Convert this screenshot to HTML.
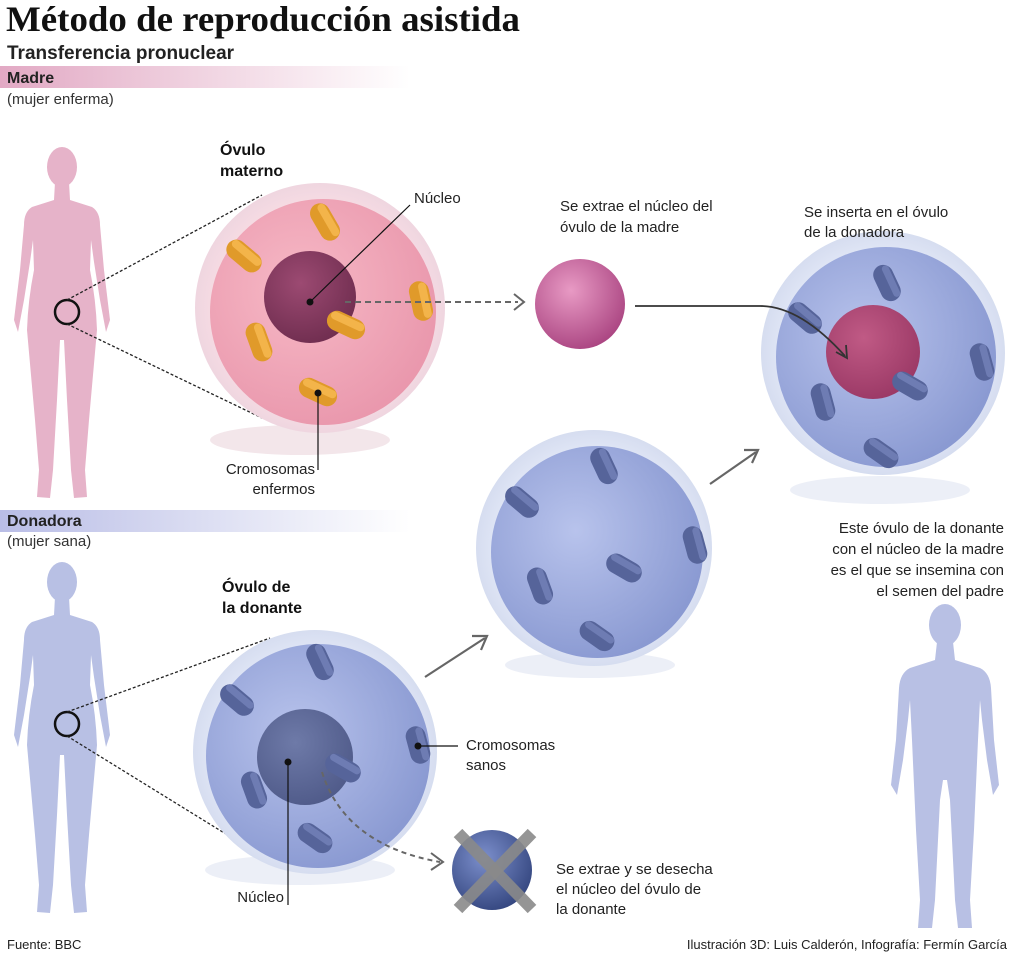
<!DOCTYPE html>
<html><head><meta charset="utf-8"><style>
body{margin:0;background:#fff;}
svg{display:block;font-family:"Liberation Sans",sans-serif;}
</style></head><body>
<svg width="1024" height="954" viewBox="0 0 1024 954" xmlns="http://www.w3.org/2000/svg">
<defs>
<linearGradient id="pbar" x1="0" x2="1"><stop offset="0" stop-color="#e2a9c4"/><stop offset="1" stop-color="#fff"/></linearGradient>
<linearGradient id="bbar" x1="0" x2="1"><stop offset="0" stop-color="#b9bde6"/><stop offset="1" stop-color="#fff"/></linearGradient>
<radialGradient id="pegg" cx="0.4" cy="0.4" r="0.7"><stop offset="0" stop-color="#f7b9c6"/><stop offset="1" stop-color="#e894aa"/></radialGradient>
<radialGradient id="phalo" cx="0.5" cy="0.5" r="0.5"><stop offset="0.85" stop-color="#f6dbe3"/><stop offset="1" stop-color="#efd6e0"/></radialGradient>
<radialGradient id="pnuc" cx="0.4" cy="0.35" r="0.7"><stop offset="0" stop-color="#9c4a72"/><stop offset="1" stop-color="#6f2d4f"/></radialGradient>
<radialGradient id="psph" cx="0.4" cy="0.35" r="0.7"><stop offset="0" stop-color="#e89ac4"/><stop offset="1" stop-color="#a94380"/></radialGradient>
<radialGradient id="begg" cx="0.4" cy="0.4" r="0.7"><stop offset="0" stop-color="#b8c3ec"/><stop offset="1" stop-color="#8595cf"/></radialGradient>
<radialGradient id="bhalo" cx="0.5" cy="0.5" r="0.5"><stop offset="0.85" stop-color="#dfe5f5"/><stop offset="1" stop-color="#d6ddf0"/></radialGradient>
<radialGradient id="bnuc" cx="0.4" cy="0.35" r="0.7"><stop offset="0" stop-color="#6e7aa8"/><stop offset="1" stop-color="#4f5a89"/></radialGradient>
<radialGradient id="rnuc" cx="0.4" cy="0.35" r="0.7"><stop offset="0" stop-color="#c05a85"/><stop offset="1" stop-color="#9a3865"/></radialGradient>
<radialGradient id="xsph" cx="0.4" cy="0.35" r="0.7"><stop offset="0" stop-color="#7c8fcc"/><stop offset="1" stop-color="#33457e"/></radialGradient>
<g id="oc"><rect x="-20" y="-10" width="40" height="20" rx="10" fill="#e09a2a"/><rect x="-18" y="-8" width="36" height="8" rx="4" fill="#f3b44a"/></g>
<g id="bc"><rect x="-19" y="-10" width="38" height="20" rx="10" fill="#56649a"/><rect x="-17" y="-8" width="34" height="7" rx="3.5" fill="#6e7cb3"/></g>
<g id="woman">
<ellipse cx="62" cy="167" rx="15" ry="20"/>
<path d="M55,182 L69,182 L70,200 L92,207 Q100,212 100,225 L104,270 L110,320 L106,332 L100,300 L94,262 L91,240 L90,270 Q96,300 97,330 L89,420 L85,470 L87,497 L74,498 L71,470 L67,400 L64,340 L60,340 L57,400 L53,470 L50,498 L37,497 L39,470 L35,420 L27,330 Q28,300 34,270 L33,240 L30,262 L24,300 L18,332 L14,320 L20,270 L24,225 Q24,212 32,207 L54,200 Z"/>
</g>
</defs>

<!-- header -->
<text x="6" y="31" font-family="Liberation Serif,serif" font-weight="bold" font-size="36" fill="#111" textLength="514" lengthAdjust="spacingAndGlyphs">Método de reproducción asistida</text>
<text x="7" y="59" font-weight="bold" font-size="19" fill="#222">Transferencia pronuclear</text>
<rect x="0" y="66" width="410" height="22" fill="url(#pbar)"/>
<text x="7" y="83" font-weight="bold" font-size="16" fill="#222">Madre</text>
<text x="7" y="104" font-size="15" fill="#333">(mujer enferma)</text>
<rect x="0" y="510" width="410" height="22" fill="url(#bbar)"/>
<text x="7" y="526" font-weight="bold" font-size="16" fill="#222">Donadora</text>
<text x="7" y="546" font-size="15" fill="#333">(mujer sana)</text>

<!-- women -->
<use href="#woman" fill="#e6b3c9"/>
<use href="#woman" fill="#b8c0e4" transform="translate(0,415)"/>
<!-- man -->
<g fill="#b8c0e4">
<ellipse cx="945" cy="625" rx="16" ry="21"/>
<path d="M937,642 L953,642 L955,660 L980,668 Q990,673 991,688 L994,740 L999,785 L993,795 L987,760 L982,720 L980,700 L978,740 L974,830 L970,900 L972,928 L958,928 L955,900 L950,800 L947,780 L943,780 L940,800 L935,900 L932,928 L918,928 L920,900 L916,830 L912,740 L910,700 L908,720 L903,760 L897,795 L891,785 L896,740 L899,688 Q900,673 910,668 L935,660 Z"/>
</g>

<!-- selection circles & dotted lines -->
<circle cx="67" cy="312" r="12" fill="none" stroke="#111" stroke-width="2.5"/>
<line x1="67" y1="300" x2="262" y2="195" stroke="#222" stroke-width="1.3" stroke-dasharray="3,2"/>
<line x1="67" y1="324" x2="262" y2="418" stroke="#222" stroke-width="1.3" stroke-dasharray="3,2"/>
<circle cx="67" cy="724" r="12" fill="none" stroke="#111" stroke-width="2.5"/>
<line x1="67" y1="712" x2="270" y2="638" stroke="#222" stroke-width="1.3" stroke-dasharray="3,2"/>
<line x1="67" y1="736" x2="268" y2="860" stroke="#222" stroke-width="1.3" stroke-dasharray="3,2"/>

<!-- pink egg -->
<ellipse cx="300" cy="440" rx="90" ry="15" fill="#f3e6ea"/>
<circle cx="320" cy="308" r="125" fill="url(#phalo)"/>
<circle cx="323" cy="312" r="113" fill="url(#pegg)"/>
<circle cx="310" cy="297" r="46" fill="url(#pnuc)"/>
<use href="#oc" transform="translate(325,222) rotate(60)"/>
<use href="#oc" transform="translate(244,256) rotate(40)"/>
<use href="#oc" transform="translate(421,301) rotate(78)"/>
<use href="#oc" transform="translate(346,325) rotate(25)"/>
<use href="#oc" transform="translate(259,342) rotate(70)"/>
<use href="#oc" transform="translate(318,392) rotate(25)"/>
<circle cx="310" cy="302" r="3.5" fill="#111"/>
<line x1="310" y1="302" x2="410" y2="205" stroke="#111" stroke-width="1.2"/>
<circle cx="318" cy="393" r="3.5" fill="#111"/>
<line x1="318" y1="393" x2="318" y2="470" stroke="#111" stroke-width="1.2"/>
<text x="220" y="155" font-weight="bold" font-size="16" fill="#111">Óvulo</text>
<text x="220" y="176" font-weight="bold" font-size="16" fill="#111">materno</text>
<text x="414" y="203" font-size="15" fill="#222">Núcleo</text>
<text x="315" y="474" font-size="15" fill="#222" text-anchor="end">Cromosomas</text>
<text x="315" y="494" font-size="15" fill="#222" text-anchor="end">enfermos</text>
<line x1="345" y1="302" x2="518" y2="302" stroke="#666" stroke-width="2" stroke-dasharray="6,4"/>
<path d="M514,294 L524,302 L514,310" fill="none" stroke="#666" stroke-width="2"/>

<!-- pink small sphere -->
<circle cx="580" cy="304" r="45" fill="url(#psph)"/>
<text x="560" y="211" font-size="15" fill="#222">Se extrae el núcleo del</text>
<text x="560" y="232" font-size="15" fill="#222">óvulo de la madre</text>

<!-- right blue egg -->
<ellipse cx="880" cy="490" rx="90" ry="14" fill="#eceff7"/>
<circle cx="883" cy="353" r="122" fill="url(#bhalo)"/>
<circle cx="886" cy="357" r="110" fill="url(#begg)"/>
<circle cx="873" cy="352" r="47" fill="url(#rnuc)"/>
<use href="#bc" transform="translate(887,283) rotate(65)"/>
<use href="#bc" transform="translate(805,318) rotate(40)"/>
<use href="#bc" transform="translate(982,362) rotate(75)"/>
<use href="#bc" transform="translate(910,386) rotate(30)"/>
<use href="#bc" transform="translate(823,402) rotate(75)"/>
<use href="#bc" transform="translate(881,453) rotate(35)"/>
<path d="M635,306 L760,306 Q800,306 845,356" fill="none" stroke="#333" stroke-width="1.8"/>
<path d="M836,352 L847,358 L846,345" fill="none" stroke="#333" stroke-width="1.8"/>
<text x="804" y="217" font-size="15" fill="#222">Se inserta en el óvulo</text>
<text x="804" y="237" font-size="15" fill="#222">de la donadora</text>
<text x="1004" y="533" font-size="15" fill="#222" text-anchor="end">Este óvulo de la donante</text>
<text x="1004" y="554" font-size="15" fill="#222" text-anchor="end">con el núcleo de la madre</text>
<text x="1004" y="575" font-size="15" fill="#222" text-anchor="end">es el que se insemina con</text>
<text x="1004" y="596" font-size="15" fill="#222" text-anchor="end">el semen del padre</text>

<!-- middle blue egg -->
<ellipse cx="590" cy="665" rx="85" ry="13" fill="#eceff7"/>
<circle cx="594" cy="548" r="118" fill="url(#bhalo)"/>
<circle cx="597" cy="552" r="106" fill="url(#begg)"/>
<use href="#bc" transform="translate(604,466) rotate(65)"/>
<use href="#bc" transform="translate(522,502) rotate(40)"/>
<use href="#bc" transform="translate(695,545) rotate(75)"/>
<use href="#bc" transform="translate(624,568) rotate(30)"/>
<use href="#bc" transform="translate(540,586) rotate(70)"/>
<use href="#bc" transform="translate(597,636) rotate(35)"/>
<line x1="710" y1="484" x2="756" y2="452" stroke="#666" stroke-width="2.2"/>
<path d="M744,450 L758,450 L752,463" fill="none" stroke="#666" stroke-width="2.2"/>
<line x1="425" y1="677" x2="485" y2="638" stroke="#666" stroke-width="2.2"/>
<path d="M472,636 L487,636 L481,650" fill="none" stroke="#666" stroke-width="2.2"/>

<!-- bottom blue egg -->
<ellipse cx="300" cy="870" rx="95" ry="15" fill="#eceff7"/>
<circle cx="315" cy="752" r="122" fill="url(#bhalo)"/>
<circle cx="318" cy="756" r="112" fill="url(#begg)"/>
<circle cx="305" cy="757" r="48" fill="url(#bnuc)"/>
<use href="#bc" transform="translate(320,662) rotate(65)"/>
<use href="#bc" transform="translate(237,700) rotate(40)"/>
<use href="#bc" transform="translate(418,745) rotate(75)"/>
<use href="#bc" transform="translate(343,768) rotate(30)"/>
<use href="#bc" transform="translate(254,790) rotate(70)"/>
<use href="#bc" transform="translate(315,838) rotate(35)"/>
<circle cx="288" cy="762" r="3.5" fill="#111"/>
<line x1="288" y1="762" x2="288" y2="905" stroke="#111" stroke-width="1.2"/>
<circle cx="418" cy="746" r="3.5" fill="#111"/>
<line x1="418" y1="746" x2="458" y2="746" stroke="#111" stroke-width="1.2"/>
<text x="222" y="592" font-weight="bold" font-size="16" fill="#111">Óvulo de</text>
<text x="222" y="613" font-weight="bold" font-size="16" fill="#111">la donante</text>
<text x="284" y="902" font-size="15" fill="#222" text-anchor="end">Núcleo</text>
<text x="466" y="750" font-size="15" fill="#222">Cromosomas</text>
<text x="466" y="770" font-size="15" fill="#222">sanos</text>
<path d="M322,772 Q345,845 440,862" fill="none" stroke="#666" stroke-width="2" stroke-dasharray="5,4"/>
<path d="M431,853 L443,862 L431,870" fill="none" stroke="#666" stroke-width="2"/>

<!-- X sphere -->
<circle cx="492" cy="870" r="40" fill="url(#xsph)"/>
<line x1="458" y1="833" x2="532" y2="909" stroke="#8a8a8a" stroke-width="12" opacity="0.9"/>
<line x1="532" y1="833" x2="458" y2="909" stroke="#8a8a8a" stroke-width="12" opacity="0.9"/>
<text x="556" y="874" font-size="15" fill="#222">Se extrae y se desecha</text>
<text x="556" y="894" font-size="15" fill="#222">el núcleo del óvulo de</text>
<text x="556" y="914" font-size="15" fill="#222">la donante</text>

<!-- footer -->
<text x="7" y="949" font-size="13" fill="#222">Fuente: BBC</text>
<text x="1007" y="949" font-size="13" fill="#222" text-anchor="end">Ilustración 3D: Luis Calderón, Infografía: Fermín García</text>
</svg>
</body></html>
